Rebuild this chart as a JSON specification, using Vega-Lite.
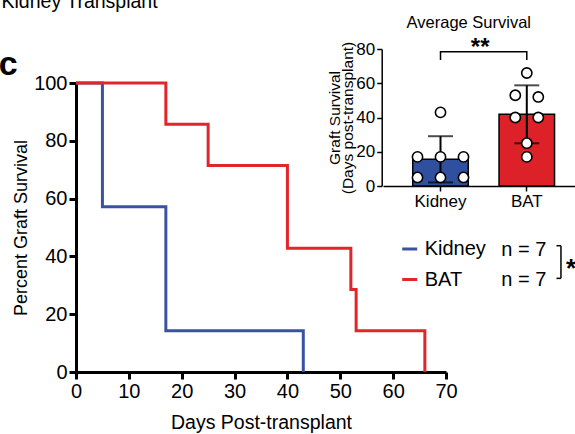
{
  "$schema": "https://vega.github.io/schema/vega-lite/v6.json",
  "width": 370,
  "height": 289,
  "autosize": {"type": "none"},
  "padding": {"left": 76, "top": 83, "right": 129, "bottom": 62},
  "background": "white",
  "config": {
    "font": "Liberation Sans",
    "view": {"stroke": null},
    "axis": {"grid": false, "domainColor": "black", "tickColor": "black", "labelColor": "black", "titleColor": "black", "titleFontWeight": "normal"},
    "legend": {"labelColor": "black"}
  },
  "datasets": {
    "surv": [
      {"grp": "Kidney", "day": 0, "pct": 100},
      {"grp": "Kidney", "day": 5, "pct": 57.14},
      {"grp": "Kidney", "day": 17, "pct": 14.29},
      {"grp": "Kidney", "day": 43, "pct": 0},
      {"grp": "BAT", "day": 0, "pct": 100},
      {"grp": "BAT", "day": 17, "pct": 85.71},
      {"grp": "BAT", "day": 25, "pct": 71.43},
      {"grp": "BAT", "day": 40, "pct": 42.86},
      {"grp": "BAT", "day": 52, "pct": 28.57},
      {"grp": "BAT", "day": 53, "pct": 14.29},
      {"grp": "BAT", "day": 66, "pct": 0}
    ],
    "pts": [
      {"grp": "Kidney", "days": 5, "slot": "1"},
      {"grp": "Kidney", "days": 5, "slot": "3"},
      {"grp": "Kidney", "days": 5, "slot": "5"},
      {"grp": "Kidney", "days": 17, "slot": "1"},
      {"grp": "Kidney", "days": 17, "slot": "3"},
      {"grp": "Kidney", "days": 17, "slot": "5"},
      {"grp": "Kidney", "days": 43, "slot": "3"},
      {"grp": "BAT", "days": 17, "slot": "3"},
      {"grp": "BAT", "days": 25, "slot": "3"},
      {"grp": "BAT", "days": 40, "slot": "2"},
      {"grp": "BAT", "days": 40, "slot": "4"},
      {"grp": "BAT", "days": 52, "slot": "4"},
      {"grp": "BAT", "days": 53, "slot": "2"},
      {"grp": "BAT", "days": 66, "slot": "3"}
    ],
    "brk": [
      {"grp": "Kidney", "v": 73.6, "o": 1},
      {"grp": "Kidney", "v": 78.4, "o": 2},
      {"grp": "BAT", "v": 78.4, "o": 3},
      {"grp": "BAT", "v": 73.6, "o": 4}
    ]
  },
  "layer": [
    {
      "layer": [
        {
          "data": {"name": "surv"},
          "mark": {"type": "line", "interpolate": "step-after", "strokeWidth": 3, "strokeCap": "butt"},
          "encoding": {
            "x": {"field": "day", "type": "quantitative", "scale": {"domain": [0, 70], "nice": false},
              "axis": {"values": [0, 10, 20, 30, 40, 50, 60, 70], "title": "Days Post-transplant", "titleFontSize": 19.5, "labelFontSize": 20, "tickSize": 7, "tickWidth": 3, "domainWidth": 3, "labelPadding": 2, "titlePadding": 12, "labelFlush": false, "labelOverlap": false}},
            "y": {"field": "pct", "type": "quantitative", "scale": {"domain": [0, 100], "nice": false},
              "axis": {"values": [0, 20, 40, 60, 80, 100], "title": "Percent Graft Survival", "titleFontSize": 18, "labelFontSize": 20, "tickSize": 7, "tickWidth": 3, "domainWidth": 3, "labelPadding": 2, "titlePadding": 3}},
            "color": {"field": "grp", "type": "nominal", "scale": {"domain": ["Kidney", "BAT"], "range": ["#3a52a4", "#e1252b"]},
              "legend": {"orient": "none", "legendX": 323.7, "legendY": 156, "title": null, "labelFontSize": 20, "symbolType": "stroke", "symbolStrokeWidth": 3, "symbolSize": 225, "labelOffset": 5, "rowPadding": 10.5, "padding": 0}}
          }
        },
        {
          "data": {"values": [{"t": "n = 7"}]},
          "mark": {"type": "text", "align": "left", "baseline": "alphabetic", "fontSize": 20, "color": "black"},
          "encoding": {"x": {"datum": 80.46, "type": "quantitative", "scale": {"domain": [0, 70], "nice": false}}, "y": {"datum": 40.1, "type": "quantitative", "scale": {"domain": [0, 100], "nice": false}}, "text": {"field": "t"}}
        },
        {
          "data": {"values": [{"t": "n = 7"}]},
          "mark": {"type": "text", "align": "left", "baseline": "alphabetic", "fontSize": 20, "color": "black"},
          "encoding": {"x": {"datum": 80.46, "type": "quantitative"}, "y": {"datum": 29.8, "type": "quantitative"}, "text": {"field": "t"}}
        },
        {
          "data": {"values": [{}]},
          "mark": {"type": "rule", "color": "black", "strokeWidth": 1.5},
          "encoding": {"x": {"datum": 91.75, "type": "quantitative"}, "y": {"datum": 43.7, "type": "quantitative"}, "y2": {"datum": 32.4}}
        },
        {
          "data": {"values": [{}]},
          "mark": {"type": "rule", "color": "black", "strokeWidth": 1.5},
          "encoding": {"x": {"datum": 90.9, "type": "quantitative"}, "x2": {"datum": 91.75}, "y": {"datum": 43.7, "type": "quantitative"}}
        },
        {
          "data": {"values": [{}]},
          "mark": {"type": "rule", "color": "black", "strokeWidth": 1.5},
          "encoding": {"x": {"datum": 90.9, "type": "quantitative"}, "x2": {"datum": 91.75}, "y": {"datum": 32.4, "type": "quantitative"}}
        },
        {
          "data": {"values": [{"t": "*"}]},
          "mark": {"type": "text", "align": "left", "baseline": "alphabetic", "fontSize": 26, "fontWeight": "bold", "color": "black"},
          "encoding": {"x": {"datum": 92.7, "type": "quantitative"}, "y": {"datum": 32.9, "type": "quantitative"}, "text": {"field": "t"}}
        },
        {
          "data": {"values": [{"t": "Kidney Transplant"}]},
          "mark": {"type": "text", "align": "left", "baseline": "alphabetic", "fontSize": 19.5, "color": "black"},
          "encoding": {"x": {"datum": -14.09, "type": "quantitative"}, "y": {"datum": 125.8, "type": "quantitative"}, "text": {"field": "t"}}
        },
        {
          "data": {"values": [{"t": "c"}]},
          "mark": {"type": "text", "align": "left", "baseline": "alphabetic", "fontSize": 34, "fontWeight": "bold", "color": "black"},
          "encoding": {"x": {"datum": -14.6, "type": "quantitative"}, "y": {"datum": 102.6, "type": "quantitative"}, "text": {"field": "t"}}
        }
      ]
    },
    {
      "layer": [
        {
          "data": {"name": "pts"},
          "mark": {"type": "bar", "stroke": "black", "strokeWidth": 1.5, "width": 55.5},
          "encoding": {
            "x": {"field": "grp", "type": "nominal", "sort": ["Kidney", "BAT"],
              "scale": {"domain": ["Kidney", "BAT"], "range": [307, 508.3], "paddingInner": 0.357, "paddingOuter": 0.345},
              "axis": {"orient": "bottom", "offset": -186, "title": null, "labelAngle": 0, "labelFontSize": 17, "tickSize": 5, "tickWidth": 1.5, "domainWidth": 1.5, "labelPadding": 2}},
            "y": {"aggregate": "mean", "field": "days", "type": "quantitative",
              "scale": {"domain": [0, 80], "range": [103, -34], "nice": false},
              "axis": {"orient": "left", "offset": -305.7, "values": [0, 20, 40, 60, 80], "title": ["Graft Survival", "(Days post-transplant)"], "titleFontSize": 15.5, "titleLineHeight": 13.5, "titlePadding": 0, "labelFontSize": 17, "tickSize": 5, "tickWidth": 1.5, "domainWidth": 1.5, "labelPadding": 2}},
            "fill": {"field": "grp", "type": "nominal", "scale": {"domain": ["Kidney", "BAT"], "range": ["#30509f", "#dc2128"]}, "legend": null}
          }
        },
        {
          "data": {"name": "pts"},
          "mark": {"type": "errorbar", "extent": "stdev", "ticks": true, "size": 25, "thickness": 2, "color": "black"},
          "encoding": {
            "x": {"field": "grp", "type": "nominal"},
            "y": {"field": "days", "type": "quantitative", "scale": {"domain": [0, 80], "range": [103, -34], "nice": false}, "axis": {"title": ["Graft Survival", "(Days post-transplant)"]}}
          }
        },
        {
          "data": {"name": "brk"},
          "mark": {"type": "line", "color": "black", "strokeWidth": 1.5},
          "encoding": {
            "x": {"field": "grp", "type": "nominal"},
            "y": {"field": "v", "type": "quantitative", "scale": {"domain": [0, 80], "range": [103, -34], "nice": false}, "axis": {"title": ["Graft Survival", "(Days post-transplant)"]}},
            "order": {"field": "o"}
          }
        },
        {
          "data": {"values": [{"t": "**"}]},
          "mark": {"type": "text", "fontSize": 24, "fontWeight": "bold", "dx": 39.7, "baseline": "alphabetic", "color": "black"},
          "encoding": {"x": {"datum": "Kidney"}, "y": {"datum": 76.3, "type": "quantitative"}, "text": {"field": "t"}}
        },
        {
          "data": {"values": [{"t": "Average Survival"}]},
          "mark": {"type": "text", "fontSize": 16.5, "dx": 28.3, "baseline": "alphabetic", "color": "black"},
          "encoding": {"x": {"datum": "Kidney"}, "y": {"datum": 92.3, "type": "quantitative"}, "text": {"field": "t"}}
        }
      ]
    },
    {
      "data": {"name": "pts"},
      "mark": {"type": "circle", "fill": "white", "stroke": "black", "strokeWidth": 1.6, "size": 105, "opacity": 1},
      "encoding": {
        "x": {"field": "grp", "type": "nominal", "sort": ["Kidney", "BAT"],
          "scale": {"domain": ["Kidney", "BAT"], "range": [307, 508.3], "paddingInner": 0.357, "paddingOuter": 0.345}, "axis": null},
        "xOffset": {"field": "slot", "type": "ordinal", "scale": {"type": "point", "domain": ["1", "2", "3", "4", "5"], "padding": 0.413}},
        "y": {"field": "days", "type": "quantitative", "scale": {"domain": [0, 80], "range": [103, -34], "nice": false}, "axis": null}
      }
    }
  ],
  "resolve": {"scale": {"x": "independent", "y": "independent"}, "axis": {"x": "independent", "y": "independent"}}
}
